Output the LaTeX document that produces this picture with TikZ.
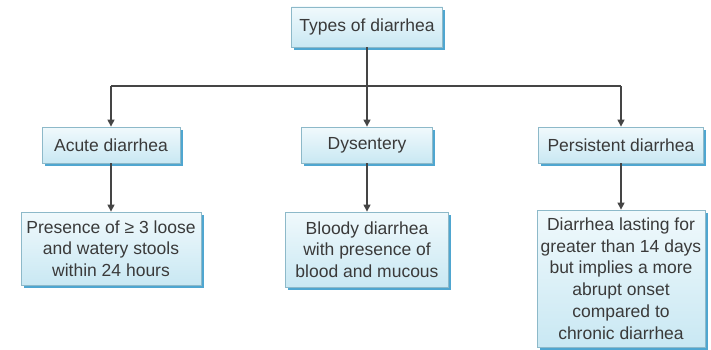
\documentclass[tikz,border=0pt]{standalone}
\usepackage{fontspec}
\setmainfont{Liberation Sans}
\usetikzlibrary{arrows.meta,shadows}
\definecolor{boxtop}{HTML}{F0F9FC}
\definecolor{boxbot}{HTML}{C9E8F3}
\definecolor{boxline}{HTML}{8DB9C9}
\definecolor{shadowblue}{HTML}{4FA6D0}
\definecolor{txt}{HTML}{3A3A3A}
\definecolor{conn}{HTML}{454545}
\tikzset{
  box/.style={draw=boxline, line width=0.8pt, top color=boxtop, bottom color=boxbot,
    drop shadow={shadow xshift=2.5pt, shadow yshift=-3pt, fill=shadowblue, opacity=1},
    text=txt, align=center, inner sep=2pt,
    font=\fontsize{17.5}{21.7}\selectfont},
  conn/.style={draw=conn, line width=1.2pt},
  arr/.style={conn, -{Triangle[length=7pt,width=7pt]}}
}
\begin{document}
\begin{tikzpicture}[x=1pt,y=1pt]
\useasboundingbox[fill=white] (0,0) rectangle (711,349);
\node[box, minimum width=151pt, minimum height=40pt] (top) at (367,322) {Types of diarrhea};
\node[box, minimum width=138pt, minimum height=36pt] (acute) at (111,204) {Acute diarrhea};
\node[box, minimum width=131pt, minimum height=36pt] (dys) at (367,204) {Dysentery};
\node[box, minimum width=165pt, minimum height=36pt] (pers) at (621,204) {Persistent diarrhea};
\node[box, minimum width=180pt, minimum height=73pt] (b1) at (111,100.5) {Presence of ≥ 3 loose\\and watery stools\\within 24 hours};
\node[box, minimum width=163pt, minimum height=75pt] (b2) at (367,99.5) {Bloody diarrhea\\with presence of\\blood and mucous};
\node[box, minimum width=168pt, minimum height=137pt] (b3) at (621,70.5) {Diarrhea lasting for\\greater than 14 days\\but implies a more\\abrupt onset\\compared to\\chronic diarrhea};
\coordinate (bar) at (367,263);
\draw[conn] (top.south) -- (bar);
\draw[arr] (acute.north |- bar) -| (acute.north);
\draw[conn] (acute.north |- bar) -- (pers.north |- bar);
\draw[arr] (bar) -- (dys.north);
\draw[arr] (pers.north |- bar) -- (pers.north);
\draw[arr] (acute.south) -- (b1.north);
\draw[arr] (dys.south) -- (b2.north);
\draw[arr] (pers.south) -- (b3.north);
\end{tikzpicture}
\end{document}
